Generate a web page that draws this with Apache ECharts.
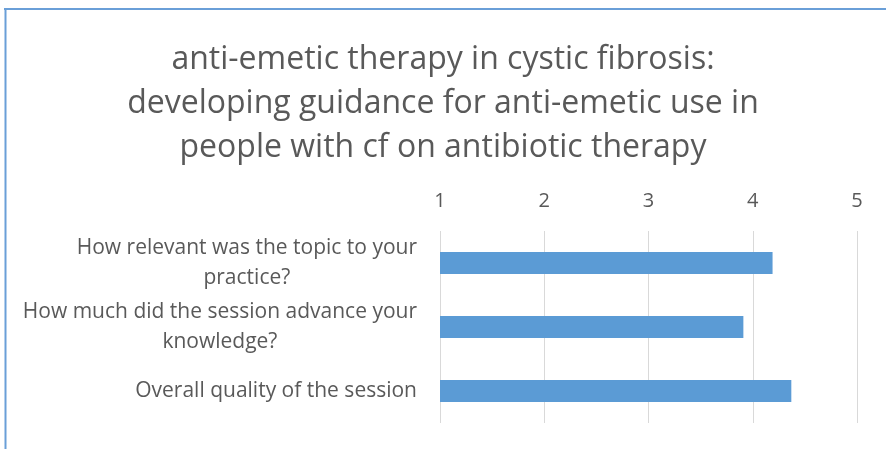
<!DOCTYPE html>
<html>
<head>
<meta charset="utf-8">
<script src="https://cdn.jsdelivr.net/npm/echarts@6/dist/echarts.min.js"></script>
<style>
html,body{margin:0;padding:0;background:#fff;}
#c{width:886px;height:449px;}
</style>
</head>
<body>
<div id="c"></div>
<script>
const titleText = "anti-emetic therapy in cystic fibrosis:\ndeveloping guidance for anti-emetic use in\npeople with cf on antibiotic therapy";
const categories = [
  "How relevant was the topic to your\npractice?",
  "How much did the session advance your\nknowledge?",
  "Overall quality of the session"
];
const scores = [4.19, 3.91, 4.37];
const axisMin = 1, axisMax = 5, axisStep = 1;

const chart = echarts.init(document.getElementById('c'), null, {renderer: 'canvas'});
const fontFam = '"Open Sans", "Noto Sans", sans-serif';
chart.setOption({
  animation: false,
  backgroundColor: '#fff',
  graphic: [
    {type: 'line', shape: {x1: 4, y1: 9, x2: 886, y2: 9}, style: {stroke: '#6a9fd8', lineWidth: 2}},
    {type: 'line', shape: {x1: 5.5, y1: 8, x2: 5.5, y2: 449}, style: {stroke: '#6a9fd8', lineWidth: 2}}
  ],
  title: {
    text: titleText,
    left: 'center',
    top: 33,
    textStyle: {fontFamily: fontFam, fontSize: 32, fontWeight: 'normal', color: '#595959', lineHeight: 44}
  },
  grid: {left: 440, right: 29, top: 231, bottom: 26, containLabel: false},
  xAxis: {
    type: 'value', position: 'top', min: axisMin, max: axisMax, interval: axisStep,
    axisLine: {show: false}, axisTick: {show: false},
    axisLabel: {fontFamily: fontFam, fontSize: 20, color: '#595959', margin: 20},
    splitLine: {show: true, lineStyle: {color: '#d9d9d9', width: 1}}
  },
  yAxis: {
    type: 'category', inverse: true, data: categories,
    axisLine: {show: false}, axisTick: {show: false},
    axisLabel: {
      fontFamily: fontFam, fontSize: 21, color: '#595959', margin: 23, lineHeight: 30, align: 'right',
      formatter: function (v) { return v.split('\n').map(function (s) { return '{c|' + s + '}'; }).join('\n'); },
      rich: {c: {align: 'center', fontFamily: fontFam, fontSize: 21, color: '#595959', lineHeight: 30}}
    }
  },
  series: [{
    type: 'bar', data: scores, barWidth: 22,
    itemStyle: {color: '#5b9bd5'}
  }]
});
</script>
</body>
</html>
